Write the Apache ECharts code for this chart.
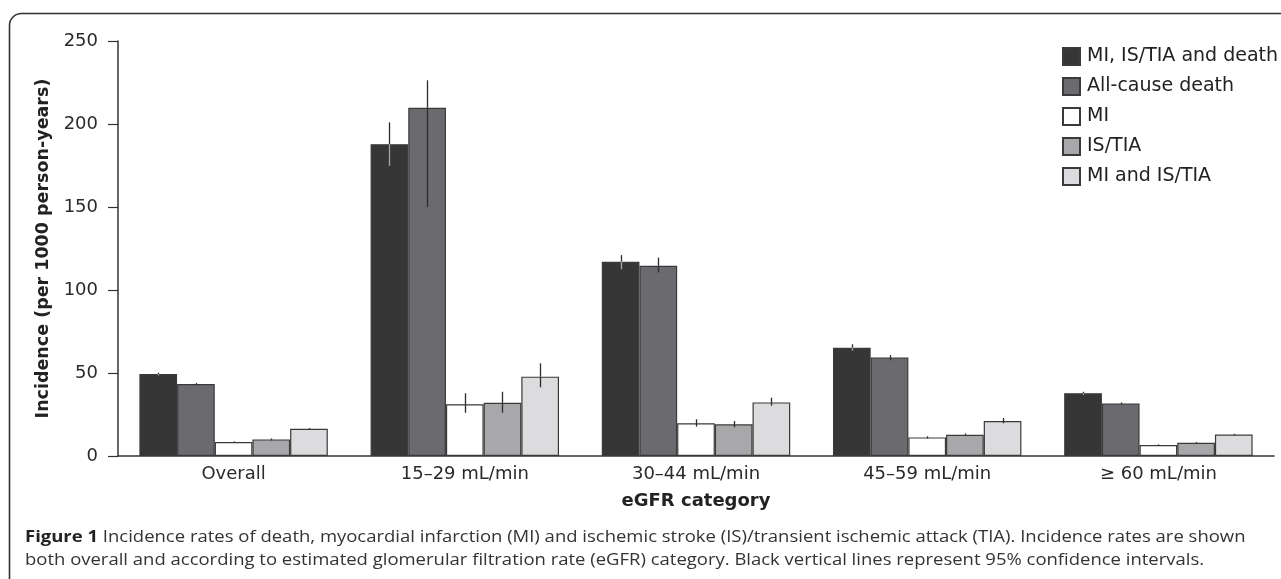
<!DOCTYPE html>
<html>
<head>
<meta charset="utf-8">
<script src="https://cdn.jsdelivr.net/npm/echarts@6/dist/echarts.min.js"></script>
<style>
  html, body { margin: 0; padding: 0; background: #fff; }
  #chart { width: 1281px; height: 579px; }
</style>
</head>
<body>
<div id="chart"></div>
<script>
// ---- Data ----
const categories = ['Overall', '15–29 mL/min', '30–44 mL/min', '45–59 mL/min', '≥ 60 mL/min'];
const seriesNames = ['MI, IS/TIA and death', 'All-cause death', 'MI', 'IS/TIA', 'MI and IS/TIA'];
const yTicks = [0, 50, 100, 150, 200, 250];

const compositeValues = [49.4, 187.8, 117.0, 65.2, 37.8];
const compositeLow    = [48.6, 174.7, 112.5, 63.4, 36.8];
const compositeHigh   = [50.2, 201.0, 121.0, 67.3, 38.7];

const deathValues = [43.4, 209.8, 114.6, 59.4, 31.7];
const deathLow    = [42.8, 150.0, 110.6, 57.6, 31.1];
const deathHigh   = [44.0, 226.3, 119.5, 60.8, 32.3];

const miValues = [8.4, 31.1, 19.7, 11.2, 6.6];
const miLow    = [8.0, 26.0, 17.7, 10.5, 6.2];
const miHigh   = [8.8, 37.8, 22.1, 11.9, 7.0];

const isValues = [10.0, 32.1, 19.1, 12.8, 8.0];
const isLow    = [9.4, 26.1, 17.3, 12.0, 7.5];
const isHigh   = [10.6, 38.7, 21.1, 13.6, 8.5];

const miisValues = [16.4, 47.8, 32.3, 21.1, 12.9];
const miisLow    = [15.9, 41.4, 30.3, 19.7, 12.4];
const miisHigh   = [16.9, 55.8, 35.1, 22.9, 13.4];

const captionLine1Bold = 'Figure 1';
const captionLine1 = ' Incidence rates of death, myocardial infarction (MI) and ischemic stroke (IS)/transient ischemic attack (TIA). Incidence rates are shown';
const captionLine2 = 'both overall and according to estimated glomerular filtration rate (eGFR) category. Black vertical lines represent 95% confidence intervals.';

// ---- Build ----
const valueSets = [compositeValues, deathValues, miValues, isValues, miisValues];
const lowSets = [compositeLow, deathLow, miLow, isLow, miisLow];
const highSets = [compositeHigh, deathHigh, miHigh, isHigh, miisHigh];
const barColors = ['#363636', '#6b6b6f', '#ffffff', '#a8a8ab', '#dcdcde'];
const CAT_GAP = 0.185;

const barSeries = seriesNames.map((name, i) => ({
  name: name,
  type: 'bar',
  data: valueSets[i],
  barGap: '0%',
  barCategoryGap: (CAT_GAP * 100) + '%',
  itemStyle: { color: barColors[i], borderColor: '#3a3a3a', borderWidth: 1.2 },
  emphasis: { disabled: true },
  z: 2
}));

const errData = [];
seriesNames.forEach((n, s) => {
  categories.forEach((c, k) => {
    errData.push([k, s, lowSets[s][k], highSets[s][k], valueSets[s][k]]);
  });
});

const errorSeries = {
  type: 'custom',
  name: 'CI',
  z: 5,
  silent: true,
  encode: { x: 0, y: [2, 3] },
  data: errData,
  renderItem: function (params, api) {
    const k = api.value(0);
    const s = api.value(1);
    const center = api.coord([k, 0]);
    const catW = api.size([1, 0])[0];
    const barW = catW * (1 - CAT_GAP) / seriesNames.length;
    const x = Math.round(center[0] + (s - (seriesNames.length - 1) / 2) * barW) + 0.5;
    const yLow = api.coord([k, api.value(2)])[1];
    const yHigh = api.coord([k, api.value(3)])[1];
    const yVal = api.coord([k, api.value(4)])[1];
    return {
      type: 'group',
      children: [
        { type: 'line', shape: { x1: x, y1: yVal, x2: x, y2: yHigh }, style: { stroke: '#2b2b2b', lineWidth: 1.3 } },
        { type: 'line', shape: { x1: x, y1: yLow, x2: x, y2: yVal }, style: { stroke: s === 0 ? '#a5a5a5' : '#2b2b2b', lineWidth: 1.3 } }
      ]
    };
  }
};

const chart = echarts.init(document.getElementById('chart'), null, { renderer: 'canvas' });
chart.setOption({
  animation: false,
  backgroundColor: '#ffffff',
  textStyle: { fontFamily: 'DejaVu Sans' },
  grid: { left: 118, right: 7, top: 41, bottom: 123, containLabel: false },
  legend: {
    data: seriesNames,
    orient: 'vertical',
    left: 1057,
    top: 42,
    itemWidth: 17,
    itemHeight: 17,
    itemGap: 11,
    icon: 'rect',
    selectedMode: false,
    textStyle: { fontSize: 19, color: '#222', fontFamily: 'DejaVu Sans', padding: [0, 0, 0, 2] }
  },
  xAxis: {
    type: 'category',
    data: categories,
    name: 'eGFR category',
    nameLocation: 'middle',
    nameGap: 36,
    nameTextStyle: { fontSize: 18, fontWeight: 'bold', color: '#222', fontFamily: 'DejaVu Sans' },
    axisLine: { lineStyle: { color: '#333', width: 1.5 } },
    axisTick: { show: false },
    axisLabel: { fontSize: 18, color: '#2a2a2a', margin: 9 },
    splitLine: { show: false }
  },
  yAxis: {
    type: 'value',
    min: yTicks[0],
    max: yTicks[yTicks.length - 1],
    interval: yTicks[1] - yTicks[0],
    name: 'Incidence (per 1000 person-years)',
    nameLocation: 'middle',
    nameGap: 66,
    nameRotate: 90,
    nameTextStyle: { fontSize: 17.5, fontWeight: 'bold', color: '#222', fontFamily: 'DejaVu Sans' },
    axisLine: { show: true, lineStyle: { color: '#333', width: 1.5 } },
    axisTick: { show: true, length: 10, lineStyle: { color: '#333', width: 1.2 } },
    axisLabel: { fontSize: 18, color: '#2a2a2a', margin: 20 },
    splitLine: { show: false }
  },
  graphic: [
    {
      type: 'rect',
      z: -10,
      silent: true,
      shape: { x: 9.5, y: 13.5, width: 1300, height: 620, r: 12 },
      style: { fill: 'none', stroke: '#333', lineWidth: 1.6 }
    },
    {
      type: 'text',
      x: 25,
      y: 537.5,
      scaleX: 1.12,
      silent: true,
      style: {
        text: '{b|' + captionLine1Bold + '}' + captionLine1,
        fontFamily: 'Open Sans',
        fontSize: 16.5,
        fill: '#333',
        verticalAlign: 'middle',
        rich: { b: { fontWeight: 'bold', fontFamily: 'Open Sans', fontSize: 16.5, fill: '#222' } }
      }
    },
    {
      type: 'text',
      x: 25,
      y: 560,
      scaleX: 1.12,
      silent: true,
      style: {
        text: captionLine2,
        fontFamily: 'Open Sans',
        fontSize: 16.5,
        fill: '#333',
        verticalAlign: 'middle'
      }
    }
  ],
  series: barSeries.concat([errorSeries])
});
</script>
</body>
</html>
